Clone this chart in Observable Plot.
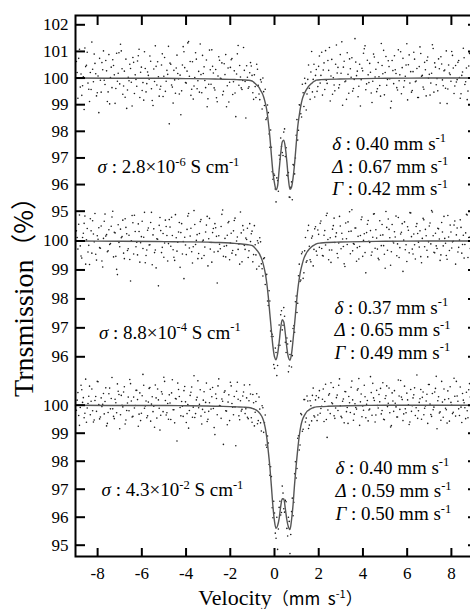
<!DOCTYPE html>
<html><head><meta charset="utf-8">
<script src="https://cdn.jsdelivr.net/npm/d3@7"></script>
<script src="https://cdn.jsdelivr.net/npm/@observablehq/plot@0.6"></script>
<style>
html,body{margin:0;padding:0;background:#fff;overflow:hidden;width:470px;height:609px;}
#chart{position:relative;width:470px;height:609px;overflow:hidden;background:#fff;}
#chart svg{position:absolute;left:0;top:0;max-width:none !important;height:609px !important;width:473px !important;}
#chart svg text, #chart svg tspan{font-family:"Liberation Serif","Times New Roman","DejaVu Serif",serif !important;}
#chart svg tspan.cjk{font-family:"Noto Sans CJK SC","Noto Sans CJK JP",sans-serif !important;}
</style></head><body><div id="chart"></div>
<script>
// ---------- data ----------
// Velocity channels, first sweep (mm/s)
const velocityA = [
-8.96,-8.89,-8.82,-8.75,-8.68,-8.61,-8.54,-8.47,-8.40,-8.33,
-8.26,-8.19,-8.12,-8.05,-7.98,-7.91,-7.84,-7.77,-7.70,-7.63,
-7.56,-7.49,-7.42,-7.35,-7.28,-7.21,-7.14,-7.07,-7.00,-6.93,
-6.86,-6.79,-6.72,-6.65,-6.58,-6.51,-6.44,-6.37,-6.30,-6.23,
-6.16,-6.09,-6.02,-5.95,-5.88,-5.81,-5.74,-5.67,-5.60,-5.53,
-5.46,-5.39,-5.32,-5.25,-5.18,-5.11,-5.04,-4.97,-4.90,-4.83,
-4.76,-4.69,-4.62,-4.55,-4.48,-4.41,-4.34,-4.27,-4.20,-4.13,
-4.06,-3.99,-3.92,-3.85,-3.78,-3.71,-3.64,-3.57,-3.50,-3.43,
-3.36,-3.29,-3.22,-3.15,-3.08,-3.01,-2.94,-2.87,-2.80,-2.73,
-2.66,-2.59,-2.52,-2.45,-2.38,-2.31,-2.24,-2.17,-2.10,-2.03,
-1.96,-1.89,-1.82,-1.75,-1.68,-1.61,-1.54,-1.47,-1.40,-1.33,
-1.26,-1.19,-1.12,-1.05,-0.98,-0.91,-0.84,-0.77,-0.70,-0.63,
-0.56,-0.49,-0.42,-0.35,-0.28,-0.21,-0.14,-0.07,0.00,0.07,
0.14,0.21,0.28,0.35,0.42,0.49,0.56,0.63,0.70,0.77,
0.84,0.91,0.98,1.05,1.12,1.19,1.26,1.33,1.40,1.47,
1.54,1.61,1.68,1.75,1.82,1.89,1.96,2.03,2.10,2.17,
2.24,2.31,2.38,2.45,2.52,2.59,2.66,2.73,2.80,2.87,
2.94,3.01,3.08,3.15,3.22,3.29,3.36,3.43,3.50,3.57,
3.64,3.71,3.78,3.85,3.92,3.99,4.06,4.13,4.20,4.27,
4.34,4.41,4.48,4.55,4.62,4.69,4.76,4.83,4.90,4.97,
5.04,5.11,5.18,5.25,5.32,5.39,5.46,5.53,5.60,5.67,
5.74,5.81,5.88,5.95,6.02,6.09,6.16,6.23,6.30,6.37,
6.44,6.51,6.58,6.65,6.72,6.79,6.86,6.93,7.00,7.07,
7.14,7.21,7.28,7.35,7.42,7.49,7.56,7.63,7.70,7.77,
7.84,7.91,7.98,8.05,8.12,8.19,8.26,8.33,8.40,8.47,
8.54,8.61,8.68,8.75,8.82,8.89,8.96];
// Velocity channels, second sweep (mm/s)
const velocityB = [
-8.925,-8.855,-8.785,-8.715,-8.645,-8.575,-8.505,-8.435,-8.365,-8.295,
-8.225,-8.155,-8.085,-8.015,-7.945,-7.875,-7.805,-7.735,-7.665,-7.595,
-7.525,-7.455,-7.385,-7.315,-7.245,-7.175,-7.105,-7.035,-6.965,-6.895,
-6.825,-6.755,-6.685,-6.615,-6.545,-6.475,-6.405,-6.335,-6.265,-6.195,
-6.125,-6.055,-5.985,-5.915,-5.845,-5.775,-5.705,-5.635,-5.565,-5.495,
-5.425,-5.355,-5.285,-5.215,-5.145,-5.075,-5.005,-4.935,-4.865,-4.795,
-4.725,-4.655,-4.585,-4.515,-4.445,-4.375,-4.305,-4.235,-4.165,-4.095,
-4.025,-3.955,-3.885,-3.815,-3.745,-3.675,-3.605,-3.535,-3.465,-3.395,
-3.325,-3.255,-3.185,-3.115,-3.045,-2.975,-2.905,-2.835,-2.765,-2.695,
-2.625,-2.555,-2.485,-2.415,-2.345,-2.275,-2.205,-2.135,-2.065,-1.995,
-1.925,-1.855,-1.785,-1.715,-1.645,-1.575,-1.505,-1.435,-1.365,-1.295,
-1.225,-1.155,-1.085,-1.015,-0.945,-0.875,-0.805,-0.735,-0.665,-0.595,
-0.525,-0.455,-0.385,-0.315,-0.245,-0.175,-0.105,-0.035,0.035,0.105,
0.175,0.245,0.315,0.385,0.455,0.525,0.595,0.665,0.735,0.805,
0.875,0.945,1.015,1.085,1.155,1.225,1.295,1.365,1.435,1.505,
1.575,1.645,1.715,1.785,1.855,1.925,1.995,2.065,2.135,2.205,
2.275,2.345,2.415,2.485,2.555,2.625,2.695,2.765,2.835,2.905,
2.975,3.045,3.115,3.185,3.255,3.325,3.395,3.465,3.535,3.605,
3.675,3.745,3.815,3.885,3.955,4.025,4.095,4.165,4.235,4.305,
4.375,4.445,4.515,4.585,4.655,4.725,4.795,4.865,4.935,5.005,
5.075,5.145,5.215,5.285,5.355,5.425,5.495,5.565,5.635,5.705,
5.775,5.845,5.915,5.985,6.055,6.125,6.195,6.265,6.335,6.405,
6.475,6.545,6.615,6.685,6.755,6.825,6.895,6.965,7.035,7.105,
7.175,7.245,7.315,7.385,7.455,7.525,7.595,7.665,7.735,7.805,
7.875,7.945,8.015,8.085,8.155,8.225,8.295,8.365,8.435,8.505,
8.575,8.645,8.715,8.785,8.855,8.925];

// Transmission (%) — sample 1 (σ = 2.8e-6 S/cm)
const transTopA = [
100.62,99.24,101.08,100.15,99.71,98.82,100.43,100.97,99.58,100.21,
101.35,99.86,100.55,99.33,100.08,100.74,99.47,100.31,99.92,100.66,
99.12,100.88,100.02,99.64,100.47,99.05,100.93,100.18,99.78,101.02,
99.39,100.26,100.71,99.55,99.9,100.36,98.95,100.59,100.12,99.69,
100.84,99.27,100.41,99.83,100.99,99.48,100.23,99.96,100.63,99.16,
100.34,101.21,99.74,100.05,99.58,100.49,99.31,100.77,99.88,100.14,
98.28,100.52,99.66,100.29,99.43,100.86,99.97,100.11,99.52,101.18,
100.39,99.81,101.32,100.07,99.35,100.61,99.7,100.95,99.6,100.25,
101.28,99.45,100.17,99.91,100.68,99.22,101.05,99.77,100.44,99.63,
100.32,99.11,100.8,99.99,100.57,99.5,100.13,98.92,100.38,99.84,
100.69,99.38,100.27,98.55,100.91,99.73,100.04,99.57,101.15,99.87,
100.46,99.62,100.2,
100.45,99.45,100.12,99.27,100.33,99.40,99.94,98.84,99.49,99.58,
98.5,98.7,97.4,97.4,96.2,96.35,95.35,96.15,97.1,97.75,
97.2,97.97,97.05,96.35,96.45,95.52,96.1,96.75,96.4,97.85,
97.67,99.0,98.66,99.77,98.93,99.8,99.4,100.49,99.2,101.0,
99.95,99.29,100.32,
99.68,100.83,100.1,99.36,100.57,101.03,99.8,100.29,99.14,100.7,
100.01,99.52,101.24,100.4,99.75,100.18,98.98,100.63,99.89,100.95,
99.43,100.35,100.76,99.61,101.48,100.09,99.3,100.52,99.94,100.27,
101.1,99.56,100.67,99.83,100.22,99.08,100.9,100.04,99.49,100.58,
99.72,101.3,100.16,99.37,100.81,99.95,100.43,98.88,100.66,99.79,
100.31,99.64,101.06,100.12,99.41,100.74,99.9,100.49,99.18,100.87,
100.24,99.53,100.97,99.86,100.36,99.27,101.17,100.07,99.66,100.59,
99.33,100.79,100.14,99.81,101.25,99.47,100.41,99.98,100.72,99.06,
100.53,99.71,100.3,101.02,99.59,100.19,99.88,100.85,99.42,100.47,
99.94,100.66,99.24,100.1,101.12,99.76,100.38,99.51,100.92,99.85,
100.28];
const transTopB = [
100.21,100.74,99.66,99.35,100.05,101.13,100.48,99.81,99.12,99.57,
100.33,100.9,100.16,99.45,98.7,99.92,100.58,101.02,99.76,100.27,
99.48,99.03,100.41,100.69,100.12,99.61,99.88,100.95,101.27,100.35,
99.7,99.28,98.86,100.03,100.52,99.84,100.77,99.42,99.95,100.64,
101.08,100.22,99.53,99.17,100.36,99.79,100.1,100.83,99.6,98.97,
99.87,100.44,100.61,99.32,99.69,100.91,100.07,99.5,100.29,101.19,
100.56,99.74,99.06,99.93,100.38,100.17,99.4,98.62,100.49,100.99,
99.83,100.26,101.37,100.62,99.58,99.21,100.02,100.71,99.9,99.47,
100.13,100.85,100.42,99.64,98.92,99.77,100.31,101.06,100.19,99.55,
99.26,100.08,100.67,99.98,99.37,100.54,100.88,99.71,99.1,100.4,
100.73,99.86,99.44,100.15,101.22,100.47,99.63,99.91,100.29,98.5,
100.03,99.67,100.58,
100.1,99.2,99.68,100.52,99.73,99.19,99.85,100.0,98.97,98.44,
98.99,97.9,98.05,96.48,96.4,95.83,96.25,95.75,96.95,97.43,
97.09,98.09,97.38,96.33,95.53,95.9,95.43,96.73,97.0,98.44,
98.04,98.98,98.54,99.45,99.99,98.8,99.95,99.62,100.23,99.48,
100.52,100.1,99.5,
100.44,99.81,100.97,100.3,99.57,99.92,100.66,101.15,100.08,99.39,
99.74,100.52,100.19,99.63,100.88,101.36,100.41,99.86,99.2,100.14,
100.72,100.03,99.51,99.95,100.6,100.26,99.69,98.95,100.37,100.93,
101.21,99.78,100.12,100.55,99.44,99.88,100.79,100.33,99.6,100.05,
99.32,100.47,101.04,100.21,99.73,100.65,99.97,99.13,100.28,100.84,
100.17,99.55,99.9,100.99,100.39,99.66,100.07,101.29,100.5,99.81,
99.47,100.24,100.71,99.89,99.27,100.43,100.92,100.1,99.58,100.31,
100.66,99.99,99.36,100.18,101.11,100.57,99.75,99.52,100.35,100.8,
99.93,100.27,99.62,99.04,100.49,100.13,101.0,100.38,99.7,99.85,
100.59,100.02,99.41,100.23,100.76,99.86,99.19,100.45,100.95,100.11];

// Transmission (%) — sample 2 (σ = 8.8e-4 S/cm)
const transMiddleA = [
100.35,99.72,100.9,99.48,100.12,100.61,99.2,100.43,99.85,100.77,
99.58,100.24,100.95,99.34,100.06,99.77,100.52,99.1,100.68,100.17,
99.63,100.39,99.91,100.83,99.45,100.28,99.02,100.56,99.8,100.11,
100.72,99.39,100.47,99.67,100.2,98.62,100.88,99.55,100.33,99.96,
100.59,99.27,100.15,99.74,100.99,99.5,100.37,99.86,100.64,99.18,
100.42,99.69,100.08,98.45,100.81,99.6,100.26,99.93,100.5,99.31,
100.74,99.82,100.19,99.44,100.91,99.65,100.31,99.09,100.6,99.98,
100.13,99.53,100.86,99.76,100.44,99.24,101.05,99.88,100.22,99.57,
100.67,99.4,100.03,99.79,100.55,99.14,100.78,99.95,100.29,99.62,
100.46,98.55,100.18,99.73,100.92,99.47,100.09,99.84,100.63,99.35,
100.27,99.67,100.71,99.52,100.14,99.9,101.0,99.28,100.38,99.71,
100.05,99.43,100.6,
100.25,99.28,100.53,99.52,100.01,99.13,99.97,99.04,99.39,98.5,
98.85,97.77,97.93,96.7,96.7,95.6,96.15,95.7,97.1,97.45,
96.93,97.7,96.5,96.65,95.48,96.08,95.65,96.98,96.85,98.1,
97.85,99.2,98.65,99.62,98.9,100.12,99.32,100.54,99.35,100.1,
99.14,100.42,99.65,
100.38,99.78,100.69,99.5,100.2,99.86,100.96,99.35,100.11,99.69,
100.53,99.95,100.28,99.42,100.85,99.73,100.07,99.21,100.62,99.88,
100.33,99.56,101.08,99.91,100.45,99.3,100.16,99.81,100.74,99.47,
100.25,98.9,100.58,99.99,100.36,99.62,100.93,99.75,100.1,99.4,
100.7,99.84,100.21,99.54,101.02,99.68,100.4,99.16,100.57,99.93,
100.14,99.49,100.81,99.77,100.3,98.95,100.66,99.87,100.49,99.59,
100.97,99.72,100.24,99.38,100.6,99.96,100.35,99.25,100.78,99.8,
100.18,99.45,100.52,99.9,101.0,99.61,100.27,99.74,100.42,99.33,
100.64,99.83,100.09,99.5,100.88,99.67,100.31,99.97,100.55,99.2,
100.45,99.78,100.73,99.58,100.2,99.88,100.92,99.43,100.13,99.71,
100.4];
const transMiddleB = [
100.12,100.58,99.83,99.41,100.27,100.86,100.04,99.62,99.19,100.35,
100.7,99.97,99.54,100.18,100.46,99.75,99.31,100.09,100.93,100.22,
99.66,99.88,100.51,101.03,100.3,99.47,98.84,99.95,100.41,100.15,
99.58,100.77,100.25,99.73,99.36,100.01,100.63,100.89,99.8,99.52,
100.33,99.94,100.68,100.13,99.25,99.69,100.45,99.87,100.99,100.21,
99.6,99.07,100.06,100.54,100.36,99.78,99.44,100.72,100.19,99.91,
100.48,100.82,99.7,99.33,100.11,99.96,100.64,100.29,99.55,98.7,
99.86,100.4,100.95,100.17,99.63,99.8,100.57,100.02,99.39,100.26,
100.74,99.99,99.5,100.31,100.85,100.08,99.72,99.27,100.43,100.6,
100.16,99.64,99.89,100.5,101.07,99.82,99.45,100.2,100.67,99.93,
99.58,100.35,100.79,100.0,99.71,99.2,100.28,100.53,99.85,100.1,
100.44,99.66,99.98,
100.34,99.53,99.87,99.03,99.93,100.11,99.21,98.79,99.42,98.83,
97.93,98.28,96.89,96.78,95.73,96.3,95.35,96.4,96.4,97.59,
97.09,97.4,96.15,96.44,95.68,96.54,96.04,97.07,97.9,97.53,
98.8,98.6,99.56,98.71,99.66,99.27,100.36,99.82,99.28,100.17,
99.71,100.49,99.51,
100.23,100.61,99.74,99.48,100.36,100.88,100.05,99.69,99.26,100.41,
100.79,100.15,99.57,99.93,100.52,100.27,99.81,99.12,100.08,100.66,
101.01,100.34,99.66,99.89,100.45,99.77,99.38,100.19,100.83,100.02,
99.6,100.29,100.71,99.95,99.51,100.13,100.94,100.39,99.72,99.35,
100.2,100.57,99.84,99.06,100.47,100.76,100.11,99.63,99.98,100.32,
100.86,99.9,99.43,100.24,100.6,100.03,99.7,99.29,100.37,100.98,
100.15,99.55,99.87,100.5,100.26,99.79,99.46,100.09,100.73,100.4,
99.68,99.97,100.62,101.05,100.18,99.59,99.83,100.44,100.07,99.52,
100.31,100.85,99.92,99.37,100.14,100.55,99.76,99.99,100.69,100.21,
99.62,100.03,100.47,99.88,99.41,100.28,100.9,100.12,99.74,100.36];

// Transmission (%) — sample 3 (σ = 4.3e-2 S/cm)
const transBottomA = [
99.82,100.45,99.28,100.71,100.1,99.55,100.93,99.9,100.32,99.66,
100.58,99.4,100.17,99.78,100.84,99.51,100.26,100.03,99.69,100.62,
99.35,100.41,99.87,100.99,99.6,100.21,99.73,100.5,99.16,100.35,
99.94,100.66,99.47,100.08,99.8,100.77,99.58,100.29,99.99,100.53,
99.25,100.44,99.71,101.1,99.89,100.15,99.62,100.6,99.43,100.3,
99.96,100.72,99.54,100.19,99.11,100.48,99.77,100.85,99.65,100.06,
100.37,99.49,100.91,99.84,100.24,98.72,100.56,99.92,100.13,99.6,
100.67,99.38,100.02,99.81,100.46,99.57,101.05,99.7,100.28,99.91,
100.55,99.33,100.18,99.75,100.79,99.5,100.09,99.86,100.63,99.2,
100.4,99.66,100.94,99.97,100.22,98.6,100.51,99.79,100.11,99.45,
100.69,99.93,100.31,98.55,100.82,99.62,100.16,99.85,100.47,99.7,
100.26,99.52,100.73,
99.55,100.38,99.26,100.13,99.34,100.29,99.37,99.98,99.03,99.65,
98.5,98.65,97.5,97.45,95.98,96.15,95.25,94.85,96.35,96.08,
97.11,96.3,96.6,95.6,96.0,94.7,96.2,96.05,97.55,97.4,
98.82,98.4,99.7,99.07,100.2,99.4,100.33,99.17,100.16,99.44,
100.61,99.58,100.34,
99.65,100.52,99.88,100.21,99.42,100.75,98.85,100.36,99.7,100.09,
100.63,99.53,100.27,99.81,100.94,99.6,100.14,99.37,100.48,99.92,
100.31,99.74,100.86,99.46,100.05,99.86,100.59,99.28,100.4,99.97,
100.71,99.55,100.17,99.83,101.02,99.64,100.26,99.4,100.53,99.9,
100.12,99.69,100.8,99.48,100.34,99.95,100.61,99.22,100.44,99.78,
100.07,99.58,100.9,99.85,100.29,99.45,100.68,99.73,100.19,99.31,
100.56,99.98,100.37,99.63,101.08,99.8,100.23,99.5,100.47,99.89,
100.15,99.35,100.74,99.67,100.42,99.93,100.6,99.16,100.3,99.76,
100.85,99.57,100.2,99.84,100.51,99.43,100.1,99.7,100.96,99.61,
100.33,99.87,100.65,99.38,100.18,99.91,100.46,99.55,100.77,99.82,
100.25];
const transBottomB = [
100.18,99.63,99.92,100.55,100.27,99.71,99.39,100.06,100.68,100.14,
99.8,99.47,100.31,100.85,100.02,99.58,99.95,100.42,100.13,99.26,
99.74,100.61,100.24,99.87,99.52,100.09,100.76,100.38,99.66,100.0,
100.47,99.33,99.81,100.29,100.92,100.15,99.6,99.9,100.53,100.2,
99.68,99.45,100.34,100.71,99.97,99.55,100.11,100.63,100.04,99.77,
99.21,100.26,100.58,99.89,99.64,100.4,101.0,100.17,99.73,99.5,
100.08,100.44,99.84,99.37,100.22,100.79,100.31,99.62,99.96,100.52,
100.12,99.7,99.18,100.35,100.65,99.93,99.56,100.19,100.87,100.03,
99.61,99.85,100.48,100.1,99.42,99.78,100.57,100.3,99.88,98.95,
100.24,100.69,99.99,99.53,100.14,100.46,99.8,99.3,100.37,100.82,
100.06,99.66,99.94,100.5,100.21,99.48,99.79,100.33,100.72,99.87,
99.57,100.16,100.4,
99.39,100.09,99.75,100.41,99.45,99.86,99.08,99.91,99.37,98.58,
98.9,97.88,97.8,96.34,96.57,95.43,96.0,95.58,96.57,96.17,
96.86,96.18,96.55,95.33,95.85,95.38,96.68,96.53,97.98,97.74,
98.91,98.58,99.66,99.14,100.2,99.54,100.15,99.29,99.98,100.35,
99.62,100.19,99.45,
100.27,99.71,99.96,100.58,100.13,99.49,99.83,100.41,100.8,100.05,
99.62,99.9,100.36,100.71,99.98,99.55,100.22,100.49,99.77,99.35,
100.09,100.64,100.19,99.68,99.92,100.54,100.95,100.12,99.59,99.82,
100.3,100.03,99.44,99.86,100.45,100.78,100.17,99.65,99.99,100.38,
100.6,99.81,99.5,100.24,100.69,100.07,99.73,99.27,100.15,100.52,
99.94,99.58,100.33,100.88,100.2,99.69,99.87,100.43,100.01,99.4,
99.78,100.26,100.62,99.91,99.53,100.1,100.56,100.28,99.66,99.97,
100.39,100.74,100.04,99.6,99.84,100.47,101.03,100.16,99.72,99.46,
100.11,100.58,99.89,99.36,100.23,100.66,100.0,99.75,100.32,100.85,
100.14,99.63,99.93,100.42,100.09,99.52,99.8,100.55,100.29,99.9];

// Fitted doublet curves
const fitVelocity = [-9,-7,-5,-4,-3,-2.5,-2,-1.7,-1.4,-1.2,
-1.05,-0.98,-0.91,-0.84,-0.77,-0.70,-0.63,-0.56,-0.49,-0.42,
-0.35,-0.28,-0.21,-0.14,-0.07,0.00,0.07,0.14,0.21,0.28,
0.35,0.42,0.49,0.56,0.63,0.70,0.77,0.84,0.91,0.98,
1.05,1.12,1.19,1.26,1.33,1.40,1.47,1.54,1.61,1.68,
1.75,1.82,1.89,2.1,2.4,2.8,3.3,4,5,7,9];
const fitTop = [100,99.99,99.99,99.98,99.97,99.96,99.95,99.94,99.93,99.92,
99.9,99.87,99.82,99.77,99.71,99.65,99.54,99.44,99.29,99.08,
98.8,98.35,97.8,97.1,96.45,96.05,95.8,95.95,96.55,97.15,
97.6,97.67,97.4,96.85,96.2,95.82,95.9,96.25,96.8,97.5,
98.17,98.6,98.96,99.22,99.38,99.5,99.6,99.69,99.75,99.8,
99.85,99.89,99.92,99.94,99.95,99.96,99.97,99.98,99.99,100,100];
const fitMiddle = [100,99.99,99.98,99.97,99.96,99.95,99.93,99.91,99.89,99.87,
99.85,99.83,99.78,99.72,99.66,99.58,99.47,99.34,99.14,98.9,
98.55,98.07,97.48,96.9,96.35,96.0,95.9,96.1,96.5,97.0,
97.28,97.2,96.8,96.3,95.98,95.88,96.1,96.58,97.15,97.75,
98.3,98.7,99.0,99.22,99.4,99.52,99.62,99.69,99.75,99.8,
99.84,99.87,99.9,99.93,99.95,99.96,99.97,99.98,99.99,100,100];
const fitBottom = [100,99.99,99.99,99.98,99.97,99.96,99.95,99.94,99.93,99.92,
99.9,99.88,99.86,99.83,99.79,99.74,99.67,99.58,99.43,99.2,
98.85,98.35,97.8,97.1,96.38,95.85,95.6,95.7,95.95,96.38,
96.66,96.65,96.3,95.9,95.65,95.56,95.9,96.45,97.2,97.85,
98.42,98.9,99.25,99.47,99.6,99.7,99.78,99.82,99.86,99.89,
99.91,99.93,99.94,99.95,99.96,99.97,99.98,99.99,100,100,100];

// Axis ticks
const xTicks = [-8,-6,-4,-2,0,2,4,6,8];
const yTicksTop = [95,96,97,98,99,100,101,102];
const yTicksMiddle = [96,97,98,99,100];
const yTicksBottom = [95,96,97,98,99,100];

// Panel annotations
const conductivity = ["2.8×10^-6","8.8×10^-4","4.3×10^-2"];
const isomerShift = ["0.40","0.37","0.40"];
const quadSplitting = ["0.67","0.65","0.59"];
const lineWidth = ["0.42","0.49","0.50"];
const sigmaX = [-8.0,-7.94,-7.82];
const sigmaY = [96.65,96.84,96.96];
const paramX = [2.61,2.71,2.76];
const paramY = [[97.535,96.66,95.82],[97.69,96.92,96.15],[97.77,96.93,96.1]];
const xTitle = "Velocity（mm s^-1）";
const yTitle = "Trnsmission（%）";

// ---------- layout (three per-panel y scales sharing one frame) ----------
const W = 473, H = 609, ML = 75, MR = 0, MT = 15, MB = 53;
const PW = W-ML-MR, PH = H-MT-MB;
const panelScales = [
  {domain: [95, 102], range: [210.7, 24.3]},
  {domain: [96, 100], range: [356.3, 240.5]},
  {domain: [95, 100], range: [544.7, 404.7]}
];
const serif = "Liberation Serif";

const transA = [transTopA, transMiddleA, transBottomA];
const transB = [transTopB, transMiddleB, transBottomB];
const fits = [fitTop, fitMiddle, fitBottom];
const yTickSets = [yTicksTop, yTicksMiddle, yTicksBottom];
transA.forEach((a,i)=>{ if (a.length !== velocityA.length) throw new Error("A length mismatch panel "+i+": "+a.length); });
transB.forEach((a,i)=>{ if (a.length !== velocityB.length) throw new Error("B length mismatch panel "+i+": "+a.length); });
fits.forEach((a,i)=>{ if (a.length !== fitVelocity.length) throw new Error("fit length mismatch "+i+": "+a.length); });

const container = document.getElementById("chart");
function layer(marks, y) {
  const opts = {width: W, height: H, marginLeft: ML, marginRight: MR, marginTop: MT, marginBottom: MB,
    style: {background: "none", fontFamily: serif},
    x: {domain: [-9, 9], axis: null}, marks};
  if (y) opts.y = {...y, axis: null};
  const svg = Plot.plot(opts);
  container.appendChild(svg);
  return svg;
}

[0,1,2].forEach(i => {
  const pts = velocityA.map((v,k) => ({v, t: transA[i][k]}))
    .concat(velocityB.map((v,k) => ({v, t: transB[i][k]})));
  const fit = fitVelocity.map((v,k) => ({v, t: fits[i][k]}));
  const notes = [
    {v: sigmaX[i], t: sigmaY[i], text: "σ : " + conductivity[i] + " S cm^-1"},
    {v: paramX[i], t: paramY[i][0], text: "δ : " + isomerShift[i] + " mm s^-1"},
    {v: paramX[i], t: paramY[i][1], text: "Δ : " + quadSplitting[i] + " mm s^-1"},
    {v: paramX[i], t: paramY[i][2], text: "Γ : " + lineWidth[i] + " mm s^-1"}
  ];
  layer([
    Plot.dot(pts, {x: "v", y: "t", r: 0.8, fill: "#1a1a1a"}),
    Plot.line(fit, {x: "v", y: "t", stroke: "#555", strokeWidth: 1.4, curve: "monotone-x"}),
    Plot.tickY(yTickSets[i], {y: d=>d, insetRight: PW-10, stroke: "#000", strokeWidth: 2}),
    Plot.tickY(yTickSets[i], {y: d=>d, insetLeft: PW-5, stroke: "#000", strokeWidth: 2}),
    Plot.text(yTickSets[i], {y: d=>d, text: d=>String(d), frameAnchor: "left", textAnchor: "end", lineAnchor: "middle", dx: -7, fontSize: 17, fill: "#000"}),
    Plot.text(notes, {x: "v", y: "t", text: "text", textAnchor: "start", lineAnchor: "middle", fontSize: 19, fill: "#000"})
  ], panelScales[i]);
});

layer([
  Plot.tickX(xTicks, {x: d=>d, insetTop: PH-8, stroke: "#000", strokeWidth: 2}),
  Plot.tickX(xTicks, {x: d=>d, insetBottom: PH-10, stroke: "#000", strokeWidth: 2}),
  Plot.frame({stroke: "#000", strokeWidth: 2}),
  Plot.text(xTicks, {x: d=>d, text: d=>d<0 ? "-"+(-d) : String(d), frameAnchor: "bottom", lineAnchor: "top", dy: 10, fontSize: 17, fill: "#000"}),
  Plot.text([xTitle], {text: d=>d, frameAnchor: "bottom", textAnchor: "middle", lineAnchor: "middle", dy: 41, dx: 6, fontSize: 22, fill: "#000"}),
  Plot.text([yTitle], {text: d=>d, frameAnchor: "left", textAnchor: "middle", lineAnchor: "middle", rotate: -90, dx: -51, dy: 4.5, fontSize: 28, fill: "#000"})
]);

// ---------- rich text (italic Greek, superscripts, CJK brackets) ----------
const svgNS = "http://www.w3.org/2000/svg";
function span(parent, txt, attrs, cls) {
  const t = document.createElementNS(svgNS, "tspan");
  t.textContent = txt;
  for (const k in attrs) t.setAttribute(k, attrs[k]);
  if (cls) t.setAttribute("class", cls);
  parent.appendChild(t);
  return t;
}
function rich(el, size) {
  const s = el.textContent;
  el.textContent = "";
  const re = /\^(-?\d+)|([σδΔΓ])|([（）%]+)|([^\^σδΔΓ（）%]+)/g;
  const shift = +(size*0.4).toFixed(1);
  let m, up = false;
  while ((m = re.exec(s))) {
    if (m[1] !== undefined) { span(el, m[1], {"font-size": +(size*0.66).toFixed(1), dy: -shift}); up = true; continue; }
    const a = {};
    if (up) { a.dy = shift; up = false; }
    if (m[2]) a["font-style"] = "italic";
    if (m[3]) a["font-size"] = +(size*0.92).toFixed(1);
    span(el, m[2] || m[3] || m[4], a, m[3] ? "cjk" : null);
  }
}
container.querySelectorAll("svg text").forEach(el => {
  const s = el.textContent;
  if (s.startsWith("Velocity")) {
    el.textContent = "";
    span(el, "Velocity", {});
    span(el, "（mm  s", {"font-size": 17}, "cjk");
    span(el, "-1", {"font-size": 11, dy: -7}, "cjk");
    span(el, "）", {"font-size": 17, dy: 7}, "cjk");
  } else if (/[\^σδΔΓ（]/.test(s)) {
    rich(el, s.startsWith("Trnsmission") ? 28 : 19);
  }
});
</script>
</body></html>
